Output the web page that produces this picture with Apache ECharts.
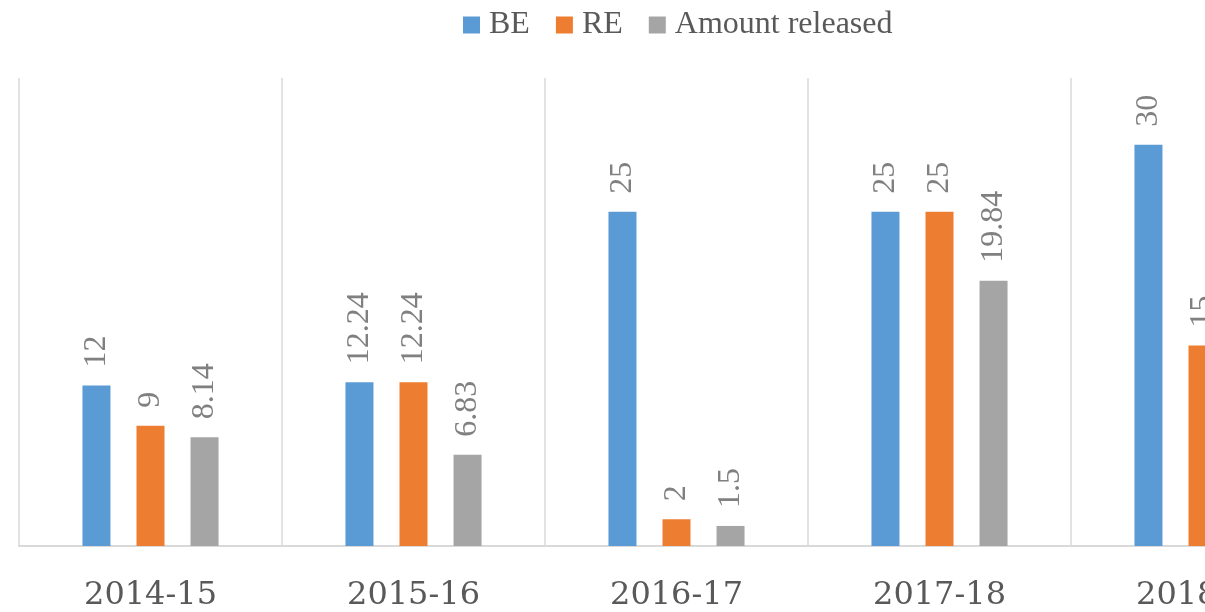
<!DOCTYPE html>
<html>
<head>
<meta charset="utf-8">
<script src="https://cdn.jsdelivr.net/npm/echarts@6/dist/echarts.min.js"></script>
<style>
  html, body { margin: 0; padding: 0; background: #fff; }
  #chart { width: 1205px; height: 612px; }
</style>
</head>
<body>
<div id="chart"></div>
<script>
var years = ['2014-15', '2015-16', '2016-17', '2017-18', '2018-19'];
var beValues = [12, 12.24, 25, 25, 30];
var reValues = [9, 12.24, 2, 25, 15];
// last year's released amount is cut off in the picture
var releasedValues = [8.14, 6.83, 1.5, 19.84, null];

var fontName = '"Liberation Serif", "DejaVu Serif", serif';

function barSeries(name, values, color) {
    return {
        name: name,
        type: 'bar',
        data: values,
        barWidth: 28,
        barGap: '93%',
        itemStyle: { color: color },
        label: {
            show: true,
            position: 'top',
            rotate: 90,
            align: 'left',
            verticalAlign: 'middle',
            distance: 18,
            fontFamily: fontName,
            fontSize: 32,
            color: '#808080'
        }
    };
}

echarts.init(document.getElementById('chart')).setOption({
    animation: false,
    legend: {
        left: 458,
        top: 4,
        itemWidth: 17,
        itemHeight: 17,
        itemGap: 26,
        icon: 'rect',
        textStyle: {
            fontFamily: fontName,
            fontSize: 32,
            color: '#595959',
            padding: [0, 0, 0, 4]
        },
        data: ['BE', 'RE', 'Amount released']
    },
    // the plot runs past the right edge of the picture
    grid: {
        left: 19,
        right: -129,
        top: 78,
        bottom: 66,
        outerBoundsMode: 'none'
    },
    xAxis: {
        type: 'category',
        data: years,
        axisLine: { lineStyle: { color: '#d9d9d9', width: 2 } },
        axisTick: { show: false },
        splitLine: { show: true, lineStyle: { color: '#d9d9d9', width: 1.5 } },
        axisLabel: {
            margin: 34,
            fontFamily: '"DejaVu Serif", serif',
            fontSize: 32,
            color: '#595959'
        }
    },
    yAxis: {
        type: 'value',
        min: 0,
        max: 35,
        show: false,
        splitLine: { show: false }
    },
    series: [
        barSeries('BE', beValues, '#5b9bd5'),
        barSeries('RE', reValues, '#ed7d31'),
        barSeries('Amount released', releasedValues, '#a5a5a5')
    ]
});
</script>
</body>
</html>
